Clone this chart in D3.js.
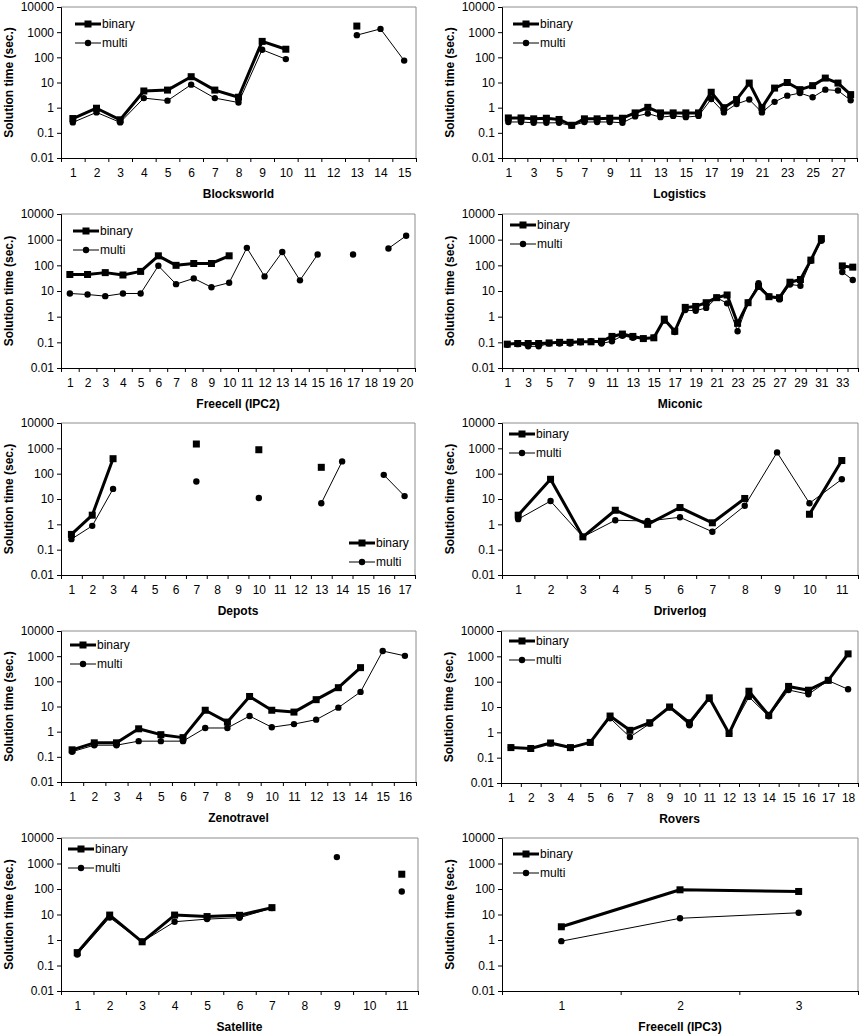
<!DOCTYPE html>
<html>
<head>
<meta charset="utf-8">
<script src="https://cdn.jsdelivr.net/npm/d3@7"></script>
<style>
  body { margin: 0; background: #fff; }
  svg { display: block; font-family: "Liberation Sans", Arial, sans-serif; }
</style>
</head>
<body>
<svg id="chart" width="860" height="1034"></svg>
<script>
// y ticks shared by every panel (log scale)
var yTicks = [0.01, 0.1, 1, 10, 100, 1000, 10000];
var seriesNames = ["binary", "multi"];

// solution times per problem, null = not solved
var blocksBinary = [0.37, 0.95, 0.33, 4.6, 5.0, 17, 5.0, 2.6, 430, 210, null, null, 1750, null, null];
var blocksMulti  = [0.26, 0.65, 0.26, 2.4, 1.9, 8.2, 2.4, 1.6, 200, 85, null, null, 760, 1350, 74];

var logBinary = [0.39, 0.39, 0.36, 0.38, 0.34, 0.2, 0.36, 0.36, 0.38, 0.38, 0.62, 1.03, 0.62, 0.62,
                 0.62, 0.62, 4.1, 1.0, 2.1, 9.5, 1.0, 6.0, 10, 5.2, 7.5, 15, 9.5, 3.3];
var logMulti  = [0.27, 0.27, 0.25, 0.25, 0.25, 0.19, 0.27, 0.27, 0.27, 0.25, 0.45, 0.58, 0.42, 0.47,
                 0.42, 0.47, 2.2, 0.65, 1.4, 2.1, 0.65, 1.7, 3.0, 3.8, 2.6, 5.2, 4.8, 1.95];

var fc2Binary = [44, 44, 52, 42, 58, 235, 100, 118, 118, 235, null, null, null, null, null, null, null, null, null, null];
var fc2Multi  = [8, 7.3, 6.3, 8, 8, 96, 18.5, 31, 14, 21, 480, 37, 330, 26, 265, null, 265, null, 455, 1420];

var micBinary = [0.085, 0.09, 0.09, 0.09, 0.095, 0.1, 0.1, 0.105, 0.105, 0.11, 0.17, 0.21, 0.17, 0.14,
                 0.15, 0.8, 0.27, 2.3, 2.5, 3.5, 5.5, 7, 0.55, 3.5, 15, 6, 5.5, 22, 28, 160, 1100,
                 null, 95, 85];
var micMulti  = [0.08, 0.085, 0.07, 0.07, 0.09, 0.09, 0.09, 0.1, 0.11, 0.09, 0.11, 0.18, 0.15, 0.14,
                 0.15, 0.7, 0.25, 1.8, 1.7, 2.2, 5.5, 3.3, 0.27, 3.5, 20, 6, 4.7, 18, 16, 150, 900,
                 null, 55, 27];

var depBinary = [0.4, 2.3, 390, null, null, null, 1480, null, null, 880, null, null, 178, null, null, null, null];
var depMulti  = [0.26, 0.87, 25, null, null, null, 49, null, null, 11, null, null, 6.8, 305, null, 90, 13];

var drvBinary = [2.3, 60, 0.32, 3.6, 1.0, 4.6, 1.15, 10.5, null, 2.5, 330];
var drvMulti  = [1.6, 8.3, 0.32, 1.45, 1.35, 1.9, 0.51, 5.4, 690, 6.8, 60];

var zenoBinary = [0.19, 0.36, 0.36, 1.3, 0.76, 0.58, 7.1, 2.4, 25, 7.1, 6.0, 18.7, 56, 350, null, null];
var zenoMulti  = [0.16, 0.29, 0.29, 0.42, 0.42, 0.42, 1.4, 1.4, 4.2, 1.5, 2.0, 3.0, 9, 38, 1600, 1030];

var roversBinary = [0.25, 0.23, 0.38, 0.25, 0.4, 4.4, 1.2, 2.4, 10, 2.4, 23, 0.9, 42, 4.7, 65, 46, 113, 1250];
var roversMulti  = [0.25, 0.23, 0.36, 0.24, 0.4, 3.6, 0.65, 2.2, 9.5, 1.9, 21, 0.9, 25, 4.3, 47, 32, 110, 50];

var satBinary = [0.32, 9.5, 0.85, 9.5, 8.3, 9.3, 18.6, null, null, null, 380];
var satMulti  = [0.27, 7.6, 0.85, 5.2, 6.6, 7.5, 18, null, 1780, null, 80];

var fc3Binary = [3.3, 93, 80];
var fc3Multi  = [0.9, 7.1, 11.7];

// layout: plot box [left, top, right, bottom], legend anchor, label step
var panels = [
  { title: "Blocksworld", binary: blocksBinary, multi: blocksMulti, box: [61, 7, 416, 158], legend: [75, 24], step: 1 },
  { title: "Logistics", binary: logBinary, multi: logMulti, box: [502, 7, 857, 158], legend: [513, 24], step: 2 },
  { title: "Freecell (IPC2)", binary: fc2Binary, multi: fc2Multi, box: [61, 214, 415, 368], legend: [73, 231], step: 1 },
  { title: "Miconic", binary: micBinary, multi: micMulti, box: [502, 214, 858, 368], legend: [510, 225], step: 2 },
  { title: "Depots", binary: depBinary, multi: depMulti, box: [61, 423, 415, 575], legend: [349, 543], step: 1 },
  { title: "Driverlog", binary: drvBinary, multi: drvMulti, box: [502, 423, 858, 575], legend: [509, 434], step: 1 },
  { title: "Zenotravel", binary: zenoBinary, multi: zenoMulti, box: [61, 631, 416, 782], legend: [70, 645], step: 1 },
  { title: "Rovers", binary: roversBinary, multi: roversMulti, box: [501, 631, 858, 783], legend: [509, 641], step: 1, bgTop: 617 },
  { title: "Satellite", binary: satBinary, multi: satMulti, box: [61, 838, 418, 991], legend: [68, 849], step: 1 },
  { title: "Freecell (IPC3)", binary: fc3Binary, multi: fc3Multi, box: [502, 838, 858, 991], legend: [513, 854], step: 1 }
];

var svg = d3.select("#chart");

panels.forEach(function (p) {
    var x0 = p.box[0], y0 = p.box[1], x1 = p.box[2], y1 = p.box[3];
    var n = p.binary.length;
    var g = svg.append("g");

    if (p.bgTop) {
        g.append("rect")
            .attr("x", x0 - 70).attr("y", p.bgTop)
            .attr("width", x1 - x0 + 72).attr("height", 10)
            .attr("fill", "#fff");
    }

    var x = d3.scaleLinear().domain([0.5, n + 0.5]).range([x0, x1]);
    var y = d3.scaleLog().domain([0.01, 10000]).range([y1, y0]);

    // gray frame on top and right
    g.append("path")
        .attr("d", "M" + x0 + "," + y0 + "H" + x1 + "V" + y1)
        .attr("fill", "none")
        .attr("stroke", "#8c8c8c")
        .attr("stroke-width", 1);

    // y axis
    var yAxis = g.append("g")
        .attr("transform", "translate(" + x0 + ",0)")
        .call(d3.axisLeft(y).tickValues(yTicks).tickSize(4).tickPadding(3)
            .tickFormat(function (d) { return String(d); }));
    yAxis.selectAll("text").style("font-size", "12px").style("fill", "#000");
    yAxis.selectAll("line").style("stroke", "#000");
    yAxis.select(".domain").style("stroke", "#000");

    // x axis: tick marks between categories
    var xTicks = g.append("g")
        .attr("transform", "translate(0," + y1 + ")")
        .call(d3.axisBottom(x).tickValues(d3.range(0.5, n + 1, 1)).tickSize(4).tickSizeOuter(0)
            .tickFormat(""));
    xTicks.selectAll("line").style("stroke", "#000");
    xTicks.select(".domain").style("stroke", "#000");

    // x labels centred in categories
    var labels = d3.range(1, n + 1).filter(function (d) { return (d - 1) % p.step === 0; });
    var xLab = g.append("g")
        .attr("transform", "translate(0," + y1 + ")")
        .call(d3.axisBottom(x).tickValues(labels).tickSize(0).tickPadding(10)
            .tickFormat(d3.format("d")));
    xLab.select(".domain").remove();
    xLab.selectAll("text").style("font-size", "12px").style("fill", "#000");

    // axis titles
    g.append("text")
        .attr("transform", "translate(" + (x0 - 48) + "," + ((y0 + y1) / 2) + ") rotate(-90)")
        .attr("text-anchor", "middle")
        .style("font-size", "12px")
        .style("font-weight", "bold")
        .text("Solution time (sec.)");

    g.append("text")
        .attr("x", (x0 + x1) / 2)
        .attr("y", y1 + 40)
        .attr("text-anchor", "middle")
        .style("font-size", "12px")
        .style("font-weight", "bold")
        .text(p.title);

    var line = d3.line()
        .defined(function (d) { return d != null; })
        .x(function (d, i) { return x(i + 1); })
        .y(function (d) { return y(d); });

    g.append("path").datum(p.binary)
        .attr("d", line)
        .attr("fill", "none")
        .attr("stroke", "#000")
        .attr("stroke-width", 3)
        .attr("stroke-linejoin", "round");

    g.append("path").datum(p.multi)
        .attr("d", line)
        .attr("fill", "none")
        .attr("stroke", "#000")
        .attr("stroke-width", 1);

    var bPts = p.binary.map(function (v, i) { return [i + 1, v]; }).filter(function (d) { return d[1] != null; });
    var mPts = p.multi.map(function (v, i) { return [i + 1, v]; }).filter(function (d) { return d[1] != null; });

    g.selectAll(".sq").data(bPts).enter()
        .append("rect")
        .attr("class", "sq")
        .attr("x", function (d) { return x(d[0]) - 3.5; })
        .attr("y", function (d) { return y(d[1]) - 3.5; })
        .attr("width", 7)
        .attr("height", 7)
        .attr("fill", "#000");

    g.selectAll(".dot").data(mPts).enter()
        .append("circle")
        .attr("class", "dot")
        .attr("cx", function (d) { return x(d[0]); })
        .attr("cy", function (d) { return y(d[1]); })
        .attr("r", 3.2)
        .attr("fill", "#000");

    // legend
    var lx = p.legend[0], ly = p.legend[1];
    seriesNames.forEach(function (name, k) {
        var yy = ly + k * 19;
        g.append("line")
            .attr("x1", lx).attr("x2", lx + 26)
            .attr("y1", yy).attr("y2", yy)
            .attr("stroke", "#000")
            .attr("stroke-width", k === 0 ? 3 : 1);
        if (k === 0) {
            g.append("rect")
                .attr("x", lx + 13 - 3.5).attr("y", yy - 3.5)
                .attr("width", 7).attr("height", 7)
                .attr("fill", "#000");
        } else {
            g.append("circle")
                .attr("cx", lx + 13).attr("cy", yy)
                .attr("r", 3.2)
                .attr("fill", "#000");
        }
        g.append("text")
            .attr("x", lx + 27)
            .attr("y", yy + 4)
            .style("font-size", "12px")
            .text(name);
    });
});
</script>
</body>
</html>
